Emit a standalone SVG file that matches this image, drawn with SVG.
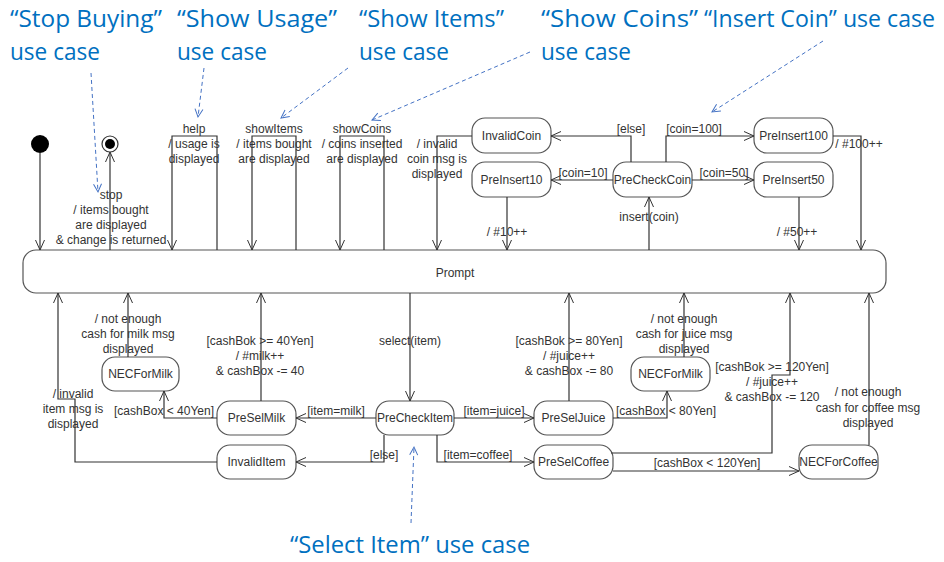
<svg xmlns="http://www.w3.org/2000/svg" width="944" height="562" viewBox="0 0 944 562">
<defs>
<marker id="arr" markerUnits="userSpaceOnUse" markerWidth="12" markerHeight="12" refX="10" refY="4.5" orient="auto" overflow="visible">
<path d="M0,0 L10,4.5 L0,9" fill="none" stroke="#333" stroke-width="1"/>
</marker>
<marker id="barr" markerUnits="userSpaceOnUse" markerWidth="10" markerHeight="10" refX="8" refY="4" orient="auto" overflow="visible">
<path d="M0,0 L8,4 L0,8" fill="none" stroke="#4472C4" stroke-width="1"/>
</marker>
<style>
.node rect{fill:#fff;stroke:#555;stroke-width:1.2}
.t{font-family:"Liberation Sans",Arial,sans-serif;font-size:12px;fill:#333;text-anchor:middle}
.c path{fill:none;stroke:#333;stroke-width:1.2;marker-end:url(#arr)}
.uc{font-family:"Open Sans","Noto Sans",sans-serif;font-size:23.5px;fill:#0070C0}
.d path{fill:none;stroke:#4472C4;stroke-width:1;stroke-dasharray:4 3;marker-end:url(#barr)}
</style>
</defs>
<rect width="944" height="562" fill="#fff"/>

<g id="usecase-labels">
<text class="uc" x="10" y="27" textLength="152" lengthAdjust="spacingAndGlyphs">“Stop Buying”</text>
<text class="uc" x="10" y="60" textLength="90" lengthAdjust="spacingAndGlyphs">use case</text>
<text class="uc" x="177" y="27" textLength="160" lengthAdjust="spacingAndGlyphs">“Show Usage”</text>
<text class="uc" x="177" y="60" textLength="90" lengthAdjust="spacingAndGlyphs">use case</text>
<text class="uc" x="359" y="27" textLength="145" lengthAdjust="spacingAndGlyphs">“Show Items”</text>
<text class="uc" x="359" y="60" textLength="90" lengthAdjust="spacingAndGlyphs">use case</text>
<text class="uc" x="541" y="27" textLength="157" lengthAdjust="spacingAndGlyphs">“Show Coins”</text>
<text class="uc" x="541" y="60" textLength="90" lengthAdjust="spacingAndGlyphs">use case</text>
<text class="uc" x="704" y="27" textLength="231" lengthAdjust="spacingAndGlyphs">“Insert Coin” use case</text>
<text class="uc" x="290" y="553" textLength="240" lengthAdjust="spacingAndGlyphs">“Select Item” use case</text>
</g>

<g id="usecase-arrows" class="d">
<path d="M91,73 L98,192"/>
<path d="M204,68 L198,117"/>
<path d="M348,68 L281,118"/>
<path d="M530,52 L372,120"/>
<path d="M823,41 L712,112"/>
<path d="M411,523 L414,447"/>
</g>

<g id="initial"><circle cx="40" cy="144" r="9" fill="#000"/></g>
<g id="final"><circle cx="110" cy="144" r="8" fill="#fff" stroke="#333" stroke-width="1.2"/><circle cx="110" cy="144" r="5" fill="#000"/></g>

<g id="Prompt" class="node"><rect x="23" y="250" width="863" height="43" rx="13"/><text class="t" x="455" y="277">Prompt</text></g>
<g id="InvalidCoin" class="node"><rect x="472" y="118" width="79" height="35" rx="13"/><text class="t" x="511.5" y="140">InvalidCoin</text></g>
<g id="PreInsert10" class="node"><rect x="472" y="162" width="79" height="35" rx="13"/><text class="t" x="511.5" y="184">PreInsert10</text></g>
<g id="PreCheckCoin" class="node"><rect x="613" y="162" width="79" height="35" rx="13"/><text class="t" x="652.5" y="184">PreCheckCoin</text></g>
<g id="PreInsert100" class="node"><rect x="754" y="118" width="79" height="35" rx="13"/><text class="t" x="793.5" y="140">PreInsert100</text></g>
<g id="PreInsert50" class="node"><rect x="754" y="162" width="79" height="35" rx="13"/><text class="t" x="793.5" y="184">PreInsert50</text></g>
<g id="NECForMilk" class="node"><rect x="102" y="357" width="77" height="34" rx="13"/><text class="t" x="140.5" y="378">NECForMilk</text></g>
<g id="PreSelMilk" class="node"><rect x="217" y="401" width="79" height="34" rx="13"/><text class="t" x="256.5" y="422">PreSelMilk</text></g>
<g id="InvalidItem" class="node"><rect x="217" y="445" width="79" height="34" rx="13"/><text class="t" x="256.5" y="466">InvalidItem</text></g>
<g id="PreCheckItem" class="node"><rect x="376" y="401" width="78" height="34" rx="13"/><text class="t" x="415" y="422">PreCheckItem</text></g>
<g id="PreSelJuice" class="node"><rect x="534" y="401" width="79" height="34" rx="13"/><text class="t" x="573.5" y="422">PreSelJuice</text></g>
<g id="PreSelCoffee" class="node"><rect x="534" y="445" width="79" height="34" rx="13"/><text class="t" x="573.5" y="466">PreSelCoffee</text></g>
<g id="NECForMilk2" class="node"><rect x="631" y="357" width="79" height="34" rx="13"/><text class="t" x="670.5" y="378">NECForMilk</text></g>
<g id="NECForCoffee" class="node"><rect x="799" y="445" width="79" height="34" rx="13"/><text class="t" x="838.5" y="466">NECForCoffee</text></g>

<g id="connectors" class="c">
<path d="M40,153 V250"/>
<path d="M110,250 V152"/>
<path d="M217,250 V136 H172 V250"/>
<path d="M296,250 V136 H252 V250"/>
<path d="M384,250 V136 H340 V250"/>
<path d="M472,136 H437 V250"/>
<path d="M507,197 V250"/>
<path d="M649,250 V197"/>
<path d="M613,180 H551"/>
<path d="M631,162 V136 H551"/>
<path d="M666,162 V136 H754"/>
<path d="M692,180 H754"/>
<path d="M833,136 H861 V250"/>
<path d="M799,197 V250"/>
<path d="M128,357 V293"/>
<path d="M261,401 V293"/>
<path d="M217,418 H164 V391"/>
<path d="M217,462 H75 V399 H58 V293"/>
<path d="M410,293 V401"/>
<path d="M376,418 H296"/>
<path d="M454,418 H534"/>
<path d="M384,435 V462 H296"/>
<path d="M437,435 V462 H534"/>
<path d="M569,401 V293"/>
<path d="M613,418 H667 V391"/>
<path d="M684,357 V293"/>
<path d="M611,453 H772 V375 H790 V293"/>
<path d="M613,471 H799"/>
<path d="M869,445 V293"/>
</g>

<g id="connector-labels">
<text class="t" x="111" y="199">stop</text>
<text class="t" x="111" y="214">/ items bought</text>
<text class="t" x="111" y="229">are displayed</text>
<text class="t" x="111" y="244">&amp; change is returned</text>
<text class="t" x="194" y="133">help</text>
<text class="t" x="194" y="148">/ usage is</text>
<text class="t" x="194" y="163">displayed</text>
<text class="t" x="274" y="133">showItems</text>
<text class="t" x="274" y="148">/ items bought</text>
<text class="t" x="274" y="163">are displayed</text>
<text class="t" x="362" y="133">showCoins</text>
<text class="t" x="362" y="148">/ coins inserted</text>
<text class="t" x="362" y="163">are displayed</text>
<text class="t" x="437" y="148">/ invalid</text>
<text class="t" x="437" y="163">coin msg is</text>
<text class="t" x="437" y="178">displayed</text>
<text class="t" x="507" y="236">/ #10++</text>
<text class="t" x="583" y="177">[coin=10]</text>
<text class="t" x="631" y="133">[else]</text>
<text class="t" x="694" y="133">[coin=100]</text>
<text class="t" x="859" y="148">/ #100++</text>
<text class="t" x="724" y="177">[coin=50]</text>
<text class="t" x="797" y="236">/ #50++</text>
<text class="t" x="649" y="221">insert(coin)</text>
<text class="t" x="128" y="323">/ not enough</text>
<text class="t" x="128" y="338">cash for milk msg</text>
<text class="t" x="128" y="353">displayed</text>
<text class="t" x="260" y="345">[cashBok &gt;= 40Yen]</text>
<text class="t" x="260" y="360">/ #milk++</text>
<text class="t" x="260" y="375">&amp; cashBox -= 40</text>
<text class="t" x="164" y="415">[cashBox &lt; 40Yen]</text>
<text class="t" x="73" y="398">/ invalid</text>
<text class="t" x="73" y="413">item msg is</text>
<text class="t" x="73" y="428">displayed</text>
<text class="t" x="410" y="345">select(item)</text>
<text class="t" x="336" y="415">[item=milk]</text>
<text class="t" x="494" y="415">[item=juice]</text>
<text class="t" x="384" y="459">[else]</text>
<text class="t" x="478" y="459">[item=coffee]</text>
<text class="t" x="569" y="345">[cashBok &gt;= 80Yen]</text>
<text class="t" x="569" y="360">/ #juice++</text>
<text class="t" x="569" y="375">&amp; cashBox -= 80</text>
<text class="t" x="684" y="323">/ not enough</text>
<text class="t" x="684" y="338">cash for juice msg</text>
<text class="t" x="684" y="353">displayed</text>
<text class="t" x="666" y="415">[cashBox &lt; 80Yen]</text>
<text class="t" x="772" y="371">[cashBok &gt;= 120Yen]</text>
<text class="t" x="772" y="386">/ #juice++</text>
<text class="t" x="772" y="401">&amp; cashBox -= 120</text>
<text class="t" x="707" y="467">[cashBox &lt; 120Yen]</text>
<text class="t" x="868" y="396">/ not enough</text>
<text class="t" x="868" y="412">cash for coffee msg</text>
<text class="t" x="868" y="427">displayed</text>
</g>
</svg>
